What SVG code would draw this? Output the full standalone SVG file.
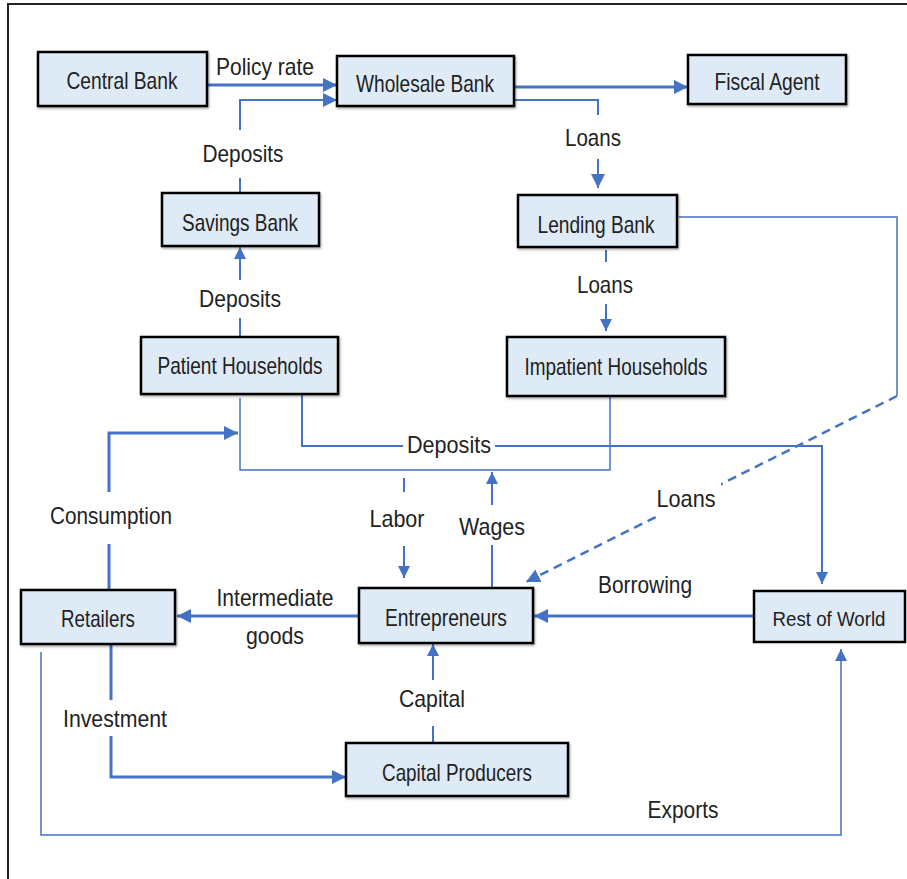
<svg xmlns="http://www.w3.org/2000/svg" width="907" height="879" viewBox="0 0 907 879">
<defs>
<style>
.box{fill:#DEEAF6;stroke:#000;stroke-width:2.5}
.t{font-family:"Liberation Sans",Arial,sans-serif;font-size:24px;fill:#222;text-anchor:middle}
.c{fill:none;stroke:#4472C4}
.k{stroke-width:3}
.m{stroke-width:2}
.n{stroke-width:1.5}
.bg{fill:#fff}
</style>
<marker id="a" viewBox="0 0 14 14" refX="14" refY="7" markerWidth="14" markerHeight="14" markerUnits="userSpaceOnUse" orient="auto">
<path d="M0,0 L14,7 L0,14 z" fill="#4472C4"/>
</marker>
<marker id="as" viewBox="0 0 12 12" refX="12" refY="6" markerWidth="12" markerHeight="12" markerUnits="userSpaceOnUse" orient="auto">
<path d="M0,0 L12,6 L0,12 z" fill="#4472C4"/>
</marker>
<filter id="sh" x="-5%" y="-5%" width="110%" height="115%">
<feDropShadow dx="1" dy="1.5" stdDeviation="0.8" flood-color="#000" flood-opacity="0.35"/>
</filter>
</defs>
<rect width="907" height="879" fill="#fff"/>
<path d="M8,879 V4 H907" fill="none" stroke="#222" stroke-width="2"/>

<g id="connectors">
<path class="c k" d="M207,85 H337" marker-end="url(#a)"/>
<path class="c m" d="M240,193 V100 H337" marker-end="url(#a)"/>
<path class="c k" d="M514,87 H688" marker-end="url(#a)"/>
<path class="c m" d="M514,100 H598 V188" marker-end="url(#a)"/>
<path class="c m" d="M606,250 V331" marker-end="url(#as)"/>
<path class="c m" d="M240,337 V247" marker-end="url(#as)"/>
<path class="c n" d="M679,217 H897 V396"/>
<path class="c" stroke-width="2.5" stroke-dasharray="9,6" d="M897,396 L526,582" marker-end="url(#a)"/>
<path class="c n" d="M240,398 V470 H610 V396"/>
<path class="c m" d="M302,394 V446 H822 V584" marker-end="url(#as)"/>
<path class="c m" d="M404,478 V578" marker-end="url(#as)"/>
<path class="c m" d="M492,588 V472" marker-end="url(#as)"/>
<path class="c k" d="M109,589 V433 H238" marker-end="url(#a)"/>
<path class="c k" d="M359,616 H177" marker-end="url(#a)"/>
<path class="c k" d="M754,616 H534" marker-end="url(#a)"/>
<path class="c m" d="M433,743 V644" marker-end="url(#as)"/>
<path class="c k" d="M111,645 V777 H346" marker-end="url(#a)"/>
<path class="c n" d="M41,652 V835 H841 V649" marker-end="url(#as)"/>

<rect class="bg" x="228" y="130" width="30" height="48"/>
<rect class="bg" x="585" y="115" width="26" height="44"/>
<rect class="bg" x="596" y="262" width="20" height="42"/>
<rect class="bg" x="228" y="280" width="24" height="38"/>
<rect class="bg" x="403" y="428" width="92" height="34"/>
<rect class="bg" x="95" y="492" width="30" height="52"/>
<rect class="bg" x="392" y="492" width="24" height="54"/>
<rect class="bg" x="480" y="505" width="24" height="40"/>
<rect class="bg" x="655" y="480" width="66" height="36"/>
<rect class="bg" x="420" y="680" width="26" height="46"/>
<rect class="bg" x="100" y="700" width="24" height="36"/>

<text class="t" x="265" y="75" textLength="98" lengthAdjust="spacingAndGlyphs">Policy rate</text>
<text class="t" x="243" y="162" textLength="81" lengthAdjust="spacingAndGlyphs">Deposits</text>
<text class="t" x="593" y="146" textLength="56" lengthAdjust="spacingAndGlyphs">Loans</text>
<text class="t" x="605" y="293" textLength="56" lengthAdjust="spacingAndGlyphs">Loans</text>
<text class="t" x="240" y="307" textLength="82" lengthAdjust="spacingAndGlyphs">Deposits</text>
<text class="t" x="449" y="453" textLength="84" lengthAdjust="spacingAndGlyphs">Deposits</text>
<text class="t" x="111" y="524" textLength="122" lengthAdjust="spacingAndGlyphs">Consumption</text>
<text class="t" x="397" y="527" textLength="55" lengthAdjust="spacingAndGlyphs">Labor</text>
<text class="t" x="492" y="535" textLength="66" lengthAdjust="spacingAndGlyphs">Wages</text>
<text class="t" x="686" y="507" textLength="59" lengthAdjust="spacingAndGlyphs">Loans</text>
<text class="t" x="275" y="606" textLength="117" lengthAdjust="spacingAndGlyphs">Intermediate</text>
<text class="t" x="275" y="644" textLength="58" lengthAdjust="spacingAndGlyphs">goods</text>
<text class="t" x="645" y="593" textLength="94" lengthAdjust="spacingAndGlyphs">Borrowing</text>
<text class="t" x="432" y="707" textLength="66" lengthAdjust="spacingAndGlyphs">Capital</text>
<text class="t" x="115" y="727" textLength="104" lengthAdjust="spacingAndGlyphs">Investment</text>
<text class="t" x="683" y="818" textLength="71" lengthAdjust="spacingAndGlyphs">Exports</text>
</g>

<g id="central-bank"><rect class="box" filter="url(#sh)" x="38" y="52" width="169" height="54"/><text class="t" x="122" y="89" textLength="111" lengthAdjust="spacingAndGlyphs">Central Bank</text></g>
<g id="wholesale-bank"><rect class="box" filter="url(#sh)" x="337" y="56" width="177" height="50"/><text class="t" x="425" y="92" textLength="138" lengthAdjust="spacingAndGlyphs">Wholesale Bank</text></g>
<g id="fiscal-agent"><rect class="box" filter="url(#sh)" x="688" y="55" width="158" height="49"/><text class="t" x="767" y="90" textLength="105" lengthAdjust="spacingAndGlyphs">Fiscal Agent</text></g>
<g id="savings-bank"><rect class="box" filter="url(#sh)" x="162" y="193" width="157" height="53"/><text class="t" x="240" y="231" textLength="116" lengthAdjust="spacingAndGlyphs">Savings Bank</text></g>
<g id="lending-bank"><rect class="box" filter="url(#sh)" x="518" y="195" width="159" height="52"/><text class="t" x="596" y="233" textLength="117" lengthAdjust="spacingAndGlyphs">Lending Bank</text></g>
<g id="patient-households"><rect class="box" filter="url(#sh)" x="141" y="337" width="197" height="57"/><text class="t" x="240" y="374" textLength="165" lengthAdjust="spacingAndGlyphs">Patient Households</text></g>
<g id="impatient-households"><rect class="box" filter="url(#sh)" x="507" y="337" width="218" height="59"/><text class="t" x="616" y="375" textLength="183" lengthAdjust="spacingAndGlyphs">Impatient Households</text></g>
<g id="retailers"><rect class="box" filter="url(#sh)" x="21" y="590" width="154" height="54"/><text class="t" x="98" y="627" textLength="74" lengthAdjust="spacingAndGlyphs">Retailers</text></g>
<g id="entrepreneurs"><rect class="box" filter="url(#sh)" x="359" y="588" width="174" height="55"/><text class="t" x="446" y="626" textLength="122" lengthAdjust="spacingAndGlyphs">Entrepreneurs</text></g>
<g id="rest-of-world"><rect class="box" x="754" y="591" width="151" height="51"/><text class="t" x="829" y="626" style="font-size:21px" textLength="113" lengthAdjust="spacingAndGlyphs">Rest of World</text></g>
<g id="capital-producers"><rect class="box" filter="url(#sh)" x="346" y="743" width="222" height="53"/><text class="t" x="457" y="781" textLength="150" lengthAdjust="spacingAndGlyphs">Capital Producers</text></g>
</svg>
